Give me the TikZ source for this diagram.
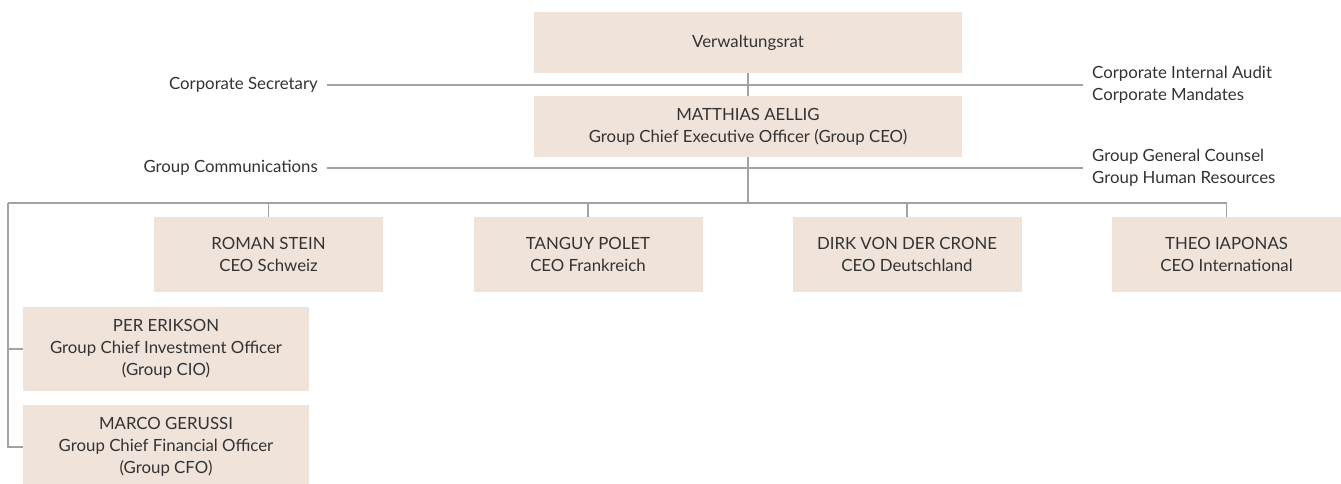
\documentclass[tikz,border=0pt]{standalone}
\usepackage{fontspec}
\setmainfont{Lato}
\definecolor{boxfill}{HTML}{EFE3DA}
\definecolor{linegray}{HTML}{A3A3A3}
\definecolor{txt}{HTML}{333333}
\begin{document}
\begin{tikzpicture}[x=1pt,y=-1pt,
  every node/.style={font=\fontsize{16.8}{22}\selectfont, text=txt},
  orgbox/.style={fill=boxfill, align=center, inner sep=0pt},
  topbox/.style={orgbox, minimum width=428pt, minimum height=61pt},
  unitbox/.style={orgbox, minimum width=229pt, minimum height=75pt},
  staffbox/.style={orgbox, minimum width=286pt, minimum height=84pt},
  staff/.style={inner sep=0pt, align=left},
  link/.style={draw=linegray, line width=1.1pt}]
\useasboundingbox (0,0) rectangle (1341,483);

% board and group CEO
\node[topbox] (vr) at (748,42.5) {Verwaltungsrat};
\node[topbox] (ceo) at (748,126.5) {MATTHIAS AELLIG\\Group Chief Executive Officer (Group CEO)};

% staff functions
\node[staff, anchor=east] (cs) at (318,85) {Corporate Secretary};
\node[staff, anchor=west] (cia) at (1092,85) {Corporate Internal Audit\\Corporate Mandates};
\node[staff, anchor=east] (gcom) at (318,168) {Group Communications};
\node[staff, anchor=west] (ggc) at (1092,168) {Group General Counsel\\Group Human Resources};

% business units
\node[unitbox] (rs) at (268.5,254.5) {ROMAN STEIN\\CEO Schweiz};
\node[unitbox] (tp) at (588,254.5) {TANGUY POLET\\CEO Frankreich};
\node[unitbox] (dc) at (907,254.5) {DIRK VON DER CRONE\\CEO Deutschland};
\node[unitbox] (ti) at (1226.5,254.5) {THEO IAPONAS\\CEO International};

% group functions
\node[staffbox] (pe) at (166,349) {PER ERIKSON\\Group Chief Investment Officer\\(Group CIO)};
\node[staffbox] (mg) at (166,447) {MARCO GERUSSI\\Group Chief Financial Officer\\(Group CFO)};

% connectors
\coordinate (busL) at (8,203);
\coordinate (busC) at (748,203);
\draw[link] (vr.south) -- (ceo.north);
\draw[link] (ceo.south) -- (busC);
\draw[link, shorten <=9pt, shorten >=9pt] (cs.east) -- (cia.west);
\draw[link, shorten <=9pt, shorten >=9pt] (gcom.east) -- (ggc.west);
\draw[link] (busL) -- (ti.north |- busL) -- (ti.north);
\foreach \u in {rs,tp,dc}
  \draw[link] (\u.north |- busL) -- (\u.north);
\draw[link] (busL) |- (pe.west);
\draw[link] (busL) |- (mg.west);
\end{tikzpicture}
\end{document}
